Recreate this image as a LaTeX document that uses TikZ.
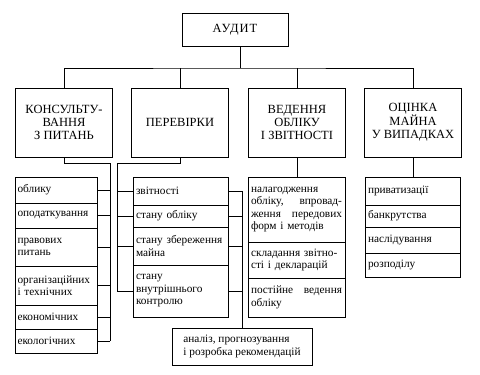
\documentclass[tikz,border=0pt]{standalone}
\usepackage{fontspec}
\setmainfont{Liberation Serif}
\usetikzlibrary{positioning}
\tikzset{
  every node/.style={font=\fontsize{11.3}{12.5}\selectfont},
  box/.style={draw, line width=0.7pt, outer sep=0pt},
  topbox/.style={box, minimum width=106pt, minimum height=33pt,
    font=\fontsize{12.5}{13}\selectfont\addfontfeatures{LetterSpace=8}},
  headbox/.style={box, minimum width=97pt, minimum height=69pt, align=center, inner sep=1pt,
    font=\fontsize{12.5}{13}\selectfont},
  row/.style={box, anchor=north west, inner xsep=3pt, inner ysep=2pt, align=left},
  lista/.style={row, inner xsep=2.5pt, text width=77pt},
  listb/.style={row, text width=89pt},
  listc/.style={row, text width=91pt},
  listd/.style={row, text width=89pt},
  link/.style={line width=0.7pt},
}
\begin{document}
\begin{tikzpicture}[x=1pt, y=-1pt]
  \useasboundingbox (0,0) rectangle (480,375);

  % Top level
  \node[topbox] (audit) at (235,29.5) {АУДИТ};

  % Second level
  \node[headbox] (kons)  at (64,122.5)  {КОНСУЛЬТУ-\\ВАННЯ\\З ПИТАНЬ};
  \node[headbox] (perev) at (180,122.5) {ПЕРЕВІРКИ};
  \node[headbox] (vede)  at (297,122.5) {ВЕДЕННЯ\\ОБЛІКУ\\І ЗВІТНОСТІ};
  \node[headbox] (ocin)  at (413,122.5) {ОЦІНКА\\МАЙНА\\У ВИПАДКАХ};

  % Bus under the top box
  \coordinate (bus) at (240,68);
  \draw[link] (bus) -- (bus |- audit.south);
  \draw[link] (kons.north) |- (bus) -| (ocin.north);
  \draw[link] (perev.north) -- (perev.north |- bus);
  \draw[link] (vede.north) -- (vede.north |- bus);

  % Consulting list
  \node[lista, minimum height=26pt] (c1) at (15,177) {облику};
  \node[lista, minimum height=25pt, below=0pt of c1] (c2) {оподаткування};
  \node[lista, minimum height=38pt, below=0pt of c2] (c3) {правових\\питань};
  \node[lista, minimum height=39pt, below=0pt of c3] (c4) {організаційних\\і технічних};
  \node[lista, minimum height=24pt, below=0pt of c4] (c5) {економічних};
  \node[lista, minimum height=24pt, below=0pt of c5] (c6) {екологічних};
  \coordinate (kbus) at (110,163);
  \draw[link] (kons.south) |- (kbus) -- (kbus |- c6.east);
  \foreach \r in {c1,c2,c3,c4,c5,c6}
    \draw[link] (\r.east) -- (\r.east -| kbus);

  % Checks list
  \node[listb, minimum height=28pt] (p1) at (133,177) {звітності};
  \node[listb, minimum height=22pt, below=0pt of p1] (p2) {стану обліку};
  \node[listb, minimum height=38pt, below=0pt of p2] (p3) {стану збереження\\майна};
  \node[listb, minimum height=52pt, below=0pt of p3] (p4) {стану\\внутрішнього\\контролю};
  \coordinate (pbus) at (117,163);
  \draw[link] (perev.south) |- (pbus) -- (pbus |- p4.west);
  \foreach \r in {p1,p2,p3,p4}
    \draw[link] (\r.west) -- (\r.west -| pbus);

  % Analysis box
  \node[box, align=left, minimum width=140pt, minimum height=37pt] (anal) at (242,346.5)
    {аналіз, прогнозування\\і розробка рекомендацій};
  \draw[link] (p1.east) -| (anal.north);
  \foreach \r in {p2,p3,p4}
    \draw[link] (\r.east) -- (\r.east -| anal.north);

  % Accounting list
  \node[listc, minimum height=65pt] (v1) at (248,177)
    {налагодження\\обліку,\hfill впровад-\\ження\hfill передових\\форм і методів};
  \node[listc, minimum height=36pt, below=0pt of v1] (v2) {складання звітно-\\сті і декларацій};
  \node[listc, minimum height=39pt, below=0pt of v2] (v3) {постійне\hfill ведення\\обліку};
  \draw[link] (vede.south) -- (vede.south |- v1.north);

  % Property valuation list
  \node[listd, minimum height=28pt] (o1) at (365,177) {приватизації};
  \node[listd, minimum height=22pt, below=0pt of o1] (o2) {банкрутства};
  \node[listd, minimum height=26pt, below=0pt of o2] (o3) {наслідування};
  \node[listd, minimum height=24pt, below=0pt of o3] (o4) {розподілу};
  \draw[link] (ocin.south) -- (ocin.south |- o1.north);
\end{tikzpicture}
\end{document}
